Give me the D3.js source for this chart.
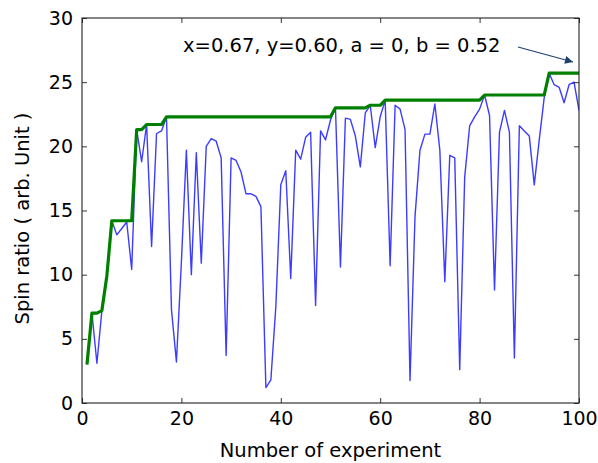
<!DOCTYPE html>
<html>
<head>
<meta charset="utf-8">
<script src="https://cdn.jsdelivr.net/npm/d3@7"></script>
<style>
  html, body { margin: 0; padding: 0; background: #fff; }
  svg text { font-family: "DejaVu Sans", Verdana, sans-serif; fill: #000; }
</style>
</head>
<body>
<svg id="chart" width="598" height="463"></svg>
<script>
const experiments = d3.range(1, 101);
const spinRatio = [
  3.0, 7.0, 3.1, 7.2, 9.9, 14.2, 13.1, 13.6, 14.1, 10.4,
  21.3, 18.8, 21.7, 12.2, 21.0, 21.2, 22.3, 7.3, 3.2, 11.0,
  19.7, 10.0, 19.5, 10.9, 20.0, 20.6, 20.4, 19.1, 3.7, 19.1,
  18.9, 18.0, 16.3, 16.3, 16.1, 15.3, 1.2, 1.8, 7.5, 17.0,
  18.1, 9.7, 19.7, 19.0, 20.7, 21.1, 7.6, 21.2, 20.5, 22.05,
  23.0, 10.6, 22.2, 22.1, 20.8, 18.4, 22.6, 23.2, 19.9, 22.3,
  23.6, 10.7, 23.2, 22.9, 21.3, 1.75, 14.5, 19.7, 20.95, 20.95,
  23.3, 19.7, 9.45, 19.3, 19.1, 2.6, 17.6, 21.6, 22.3, 22.9,
  24.0, 22.4, 8.8, 21.1, 22.8, 21.1, 3.5, 21.6, 21.2, 20.8,
  17.0, 20.5, 23.8, 25.7, 24.8, 24.6, 23.4, 24.8, 25.0, 22.8
];
const xTicks = [0, 20, 40, 60, 80, 100];
const yTicks = [0, 5, 10, 15, 20, 25, 30];
const annotationText = "x=0.67, y=0.60, a = 0, b = 0.52";

// running best value (green line)
let best = -Infinity;
const bestSoFar = spinRatio.map(v => (best = Math.max(best, v)));

const svg = d3.select("#chart");
const L = 82, R = 579, T = 18, B = 403;
const x = d3.scaleLinear().domain([0, 100]).range([L, R]);
const y = d3.scaleLinear().domain([0, 30]).range([B, T]);

svg.append("defs").append("clipPath").attr("id", "clip")
  .append("rect").attr("x", L).attr("y", T).attr("width", R - L).attr("height", B - T);

const plot = svg.append("g").attr("clip-path", "url(#clip)");

const line = d3.line().x((d, i) => x(experiments[i])).y(d => y(d));

plot.append("path").datum(spinRatio)
  .attr("d", line).attr("fill", "none")
  .attr("stroke", "#1a1aff").attr("stroke-width", 1.4).attr("stroke-opacity", 0.85)
  .attr("stroke-linejoin", "round");

plot.append("path").datum(bestSoFar)
  .attr("d", line).attr("fill", "none")
  .attr("stroke", "#008000").attr("stroke-width", 3.2)
  .attr("stroke-linejoin", "round");

// axes (ticks inside, on all four sides)
const tickLen = 5;
const axStyle = g => {
  g.select(".domain").remove();
  g.selectAll(".tick line").attr("stroke", "#000").attr("stroke-width", 0.8);
  g.selectAll(".tick text").attr("font-size", 19).attr("font-family", "DejaVu Sans");
};
svg.append("g").attr("transform", `translate(0,${B})`)
  .call(d3.axisBottom(x).tickValues(xTicks).tickFormat(d3.format("d")).tickSizeInner(-tickLen).tickSizeOuter(0).tickPadding(9))
  .call(axStyle);
svg.append("g").attr("transform", `translate(0,${T})`)
  .call(d3.axisTop(x).tickValues(xTicks).tickFormat("").tickSizeInner(-tickLen).tickSizeOuter(0))
  .call(axStyle);
svg.append("g").attr("transform", `translate(${L},0)`)
  .call(d3.axisLeft(y).tickValues(yTicks).tickFormat(d3.format("d")).tickSizeInner(-tickLen).tickSizeOuter(0).tickPadding(9))
  .call(axStyle);
svg.append("g").attr("transform", `translate(${R},0)`)
  .call(d3.axisRight(y).tickValues(yTicks).tickFormat("").tickSizeInner(-tickLen).tickSizeOuter(0))
  .call(axStyle);

svg.append("rect").attr("x", L).attr("y", T).attr("width", R - L).attr("height", B - T)
  .attr("fill", "none").attr("stroke", "#222").attr("stroke-width", 1.1);

// labels
svg.append("text").attr("x", (L + R) / 2).attr("y", 457)
  .attr("text-anchor", "middle").attr("font-size", 19.5).text("Number of experiment");
svg.append("text").attr("transform", `translate(29,${(T + B) / 2 + 8}) rotate(-90)`)
  .attr("text-anchor", "middle").attr("font-size", 19.5).text("Spin ratio ( arb. Unit )");

// annotation
svg.append("text").attr("x", 183).attr("y", 52).attr("font-size", 19.5).text(annotationText);
const defs = svg.select("defs");
defs.append("marker").attr("id", "arrow").attr("viewBox", "0 0 10 10")
  .attr("refX", 10).attr("refY", 5).attr("markerWidth", 10).attr("markerHeight", 8)
  .attr("markerUnits", "userSpaceOnUse").attr("orient", "auto")
  .append("path").attr("d", "M0,0 L10,5 L0,10 z").attr("fill", "#1f3f6e");
svg.append("line").attr("x1", 518).attr("y1", 47).attr("x2", 573).attr("y2", 62)
  .attr("stroke", "#1f3f6e").attr("stroke-width", 1.1).attr("marker-end", "url(#arrow)");
</script>
</body>
</html>
